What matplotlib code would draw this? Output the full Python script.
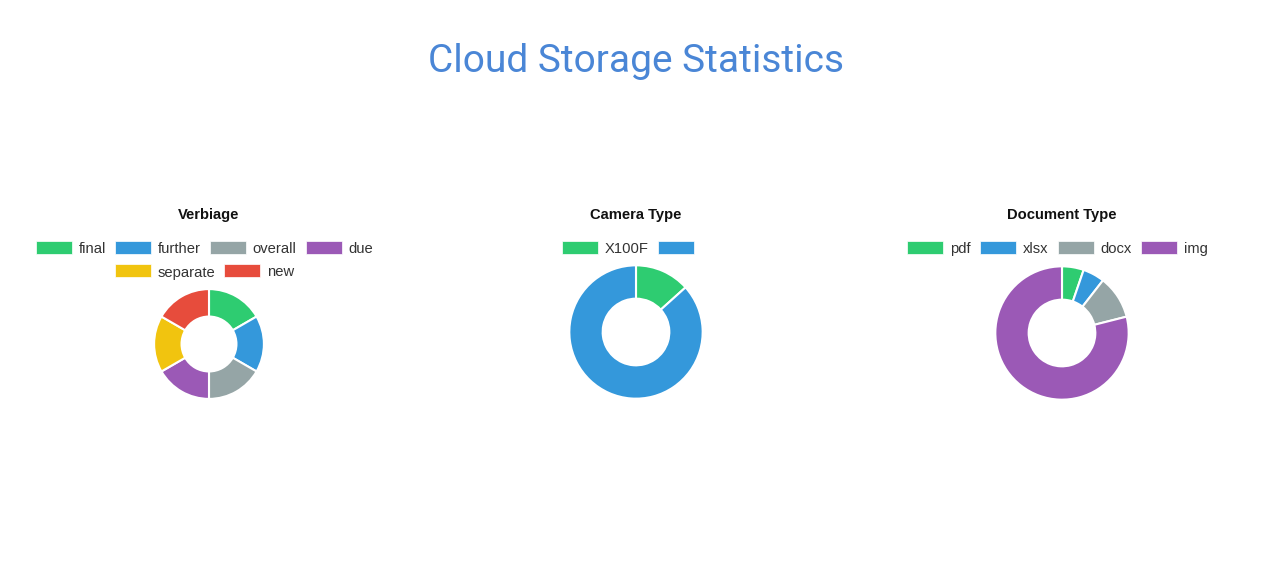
import numpy as np
import matplotlib
matplotlib.use("Agg")
from matplotlib import pyplot as plt
from matplotlib.patches import Rectangle

W = 1272
H = 563

colors = ["#2ecc71", "#3498db", "#95a5a6", "#9b59b6", "#f1c40f", "#e74c3c"]

titles = ["Verbiage", "Camera Type", "Document Type"]

verbiage_labels = ["final", "further", "overall", "due", "separate", "new"]
verbiage_values = [1, 1, 1, 1, 1, 1]

camera_labels = ["X100F", ""]
camera_values = [2, 13]

document_labels = ["pdf", "xlsx", "docx", "img"]
document_values = [1, 1, 2, 15]

all_labels = [verbiage_labels, camera_labels, document_labels]
all_values = [verbiage_values, camera_values, document_values]

# layout in pixels
col_x = [209, 636, 1062]
pie_y = [344, 332, 333]
pie_r = [56, 68, 68]
box_w, box_h, gap, pad = 36, 13, 7, 9
max_row = 410
legend_y0 = 247
row_step = 24
subtitle_y = 215

fig = plt.figure(figsize=(W / 100, H / 100), dpi=100)
renderer = fig.canvas.get_renderer()

fig.text(0.5, 1 - 61 / H, "Cloud Storage Statistics", ha="center", va="center",
         fontsize=28, color="#4a86d6", family="Roboto")

for i in range(3):
    cx = col_x[i]
    cy = pie_y[i]
    r = pie_r[i]
    labels = all_labels[i]
    values = all_values[i]

    fig.text(cx / W, 1 - subtitle_y / H, titles[i], ha="center", va="center",
             fontsize=10.6, fontweight="bold", family="Liberation Sans", color="#111111")

    # legend, wrapped and centred like chart.js
    texts = []
    widths = []
    for lab in labels:
        t = fig.text(0, 0, lab, ha="left", va="center", fontsize=10.6,
                     family="Liberation Sans", color="#333333")
        w = t.get_window_extent(renderer).width if lab else 0
        texts.append(t)
        widths.append(box_w + gap + w)
    rows = [[]]
    row_w = 0
    for j, w in enumerate(widths):
        if rows[-1] and row_w + w + pad > max_row:
            rows.append([])
            row_w = 0
        rows[-1].append(j)
        row_w += w + pad
    for k, row in enumerate(rows):
        total = sum(widths[j] + pad for j in row)
        x = cx - total / 2
        y = legend_y0 + k * row_step
        for j in row:
            fig.add_artist(Rectangle((x / W, 1 - (y + box_h / 2) / H), box_w / W, box_h / H,
                                     transform=fig.transFigure, facecolor=colors[j],
                                     edgecolor="white", linewidth=0.5))
            texts[j].set_position(((x + box_w + gap) / W, 1 - (y + 1.5) / H))
            x += widths[j] + pad

    ax = fig.add_axes([(cx - r) / W, 1 - (cy + r) / H, 2 * r / W, 2 * r / H])
    ax.pie(values, colors=colors[:len(values)], startangle=90, counterclock=False,
           radius=1, wedgeprops=dict(width=0.5, edgecolor="white", linewidth=1.5))
    ax.set_xlim(-1.02, 1.02)
    ax.set_ylim(-1.02, 1.02)
    ax.axis("off")

fig.savefig("out.png", dpi=100)
